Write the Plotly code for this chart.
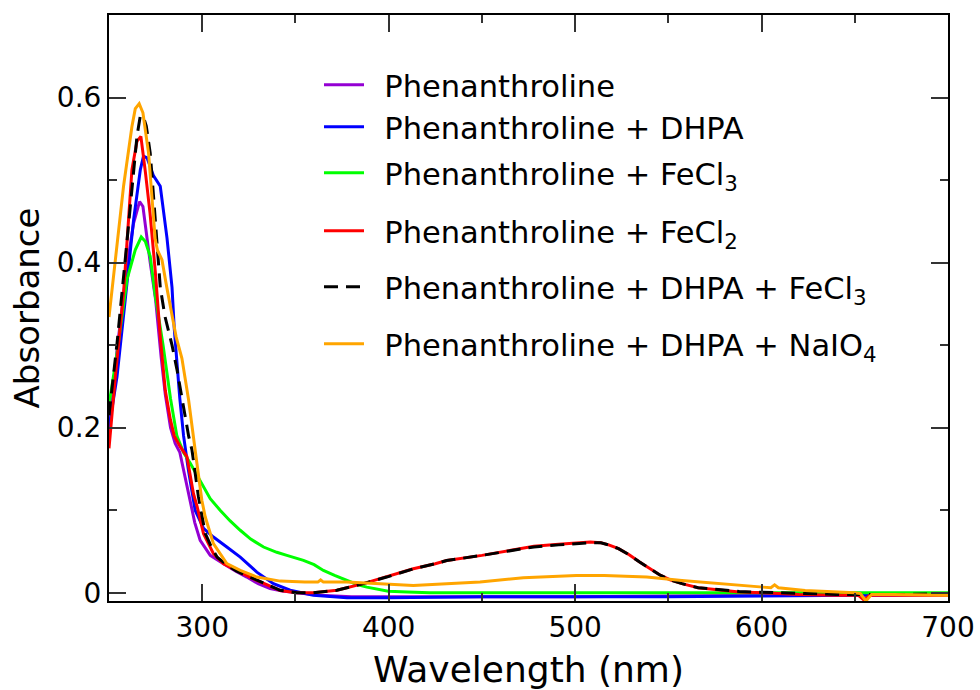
import plotly.graph_objects as go

# ---------------- data ----------------
phen_wl = [250, 254.3, 259.6, 263.2, 266.4, 268.2, 272.1, 275.0, 278.0, 280.2, 283.0, 285.5, 288.0,
           290.0, 293.6, 296.0, 298.9, 304.3, 311.4, 318.0, 323.9, 330.0, 336.4, 343.0, 350.7, 363.0,
           380.0, 400.0, 450.0, 500.0, 550.0, 600.0, 650.0, 700.0]
phen_abs = [0.19, 0.294, 0.395, 0.448, 0.474, 0.468, 0.40, 0.355, 0.285, 0.24, 0.20, 0.181, 0.17,
            0.149, 0.112, 0.085, 0.0635, 0.0453, 0.0352, 0.026, 0.019, 0.011, 0.005, 0.002, 0.0, -0.003,
            -0.005, -0.005, -0.005, -0.005, -0.004, -0.003, -0.003, -0.002]

dhpa_wl = [250, 254.3, 258.7, 263.2, 266.8, 268.5, 270.4, 273.9, 277.5, 281.1, 283.8, 285.0, 288.0,
           290.0, 292.5, 296.2, 300.7, 306.0, 313.2, 320.4, 329.3, 338.2, 347.2, 359.6, 377.6, 400.0,
           450.0, 500.0, 550.0, 600.0, 650.0, 700.0]
dhpa_abs = [0.2, 0.262, 0.355, 0.452, 0.5125, 0.529, 0.527, 0.505, 0.4925, 0.43, 0.37, 0.32, 0.235,
            0.19, 0.15, 0.1, 0.078, 0.0675, 0.0554, 0.0432, 0.025, 0.011, 0.003, -0.003, -0.006, -0.006,
            -0.005, -0.005, -0.005, -0.004, -0.003, -0.002]

fecl3_wl = [250, 254.3, 259.6, 264.1, 267.3, 269.5, 272.1, 274.8, 279.0, 283.0, 286.4, 290.0, 293.6,
            297.0, 300.7, 304.3, 309.6, 315.0, 320.4, 326.0, 332.9, 340.0, 345.4, 354.3, 360.0, 365.0,
            371.0, 377.6, 383.0, 388.3, 394.0, 399.8, 410.0, 422.0, 450.0, 500.0, 550.0, 600.0, 650.0, 700.0]
fecl3_abs = [0.228, 0.29, 0.379, 0.4155, 0.431, 0.4255, 0.4075, 0.36, 0.30, 0.235, 0.19, 0.17, 0.157,
             0.143, 0.128, 0.114, 0.1, 0.087, 0.0757, 0.065, 0.0554, 0.049, 0.0453, 0.0392, 0.034, 0.027,
             0.021, 0.0149, 0.01, 0.0068, 0.004, 0.0019, 0.001, 0.0, 0.0, 0.0, 0.0, 0.0, 0.0, 0.0]

fecl2_wl = [250, 253.4, 257.8, 262.3, 265.0, 267.1, 269.5, 272.0, 274.8, 277.5, 280.2, 282.9, 285.0,
            288.2, 291.8, 295.3, 297.2, 300.7, 306.0, 311.4, 318.5, 329.3, 341.8, 350.7, 359.6, 372.2,
            386.4, 398.9, 413.2, 425.0, 431.1, 450.0, 465.0, 477.9, 491.2, 500.0, 508.1, 513.8, 518.0,
            523.3, 529.0, 534.6, 540.0, 545.9, 551.0, 557.3, 566.0, 576.2, 588.0, 600.7, 620.0, 640.0,
            651.8, 655.0, 658.0, 660.0, 680.0, 700.0]
fecl2_abs = [0.175, 0.262, 0.363, 0.5125, 0.547, 0.553, 0.51, 0.46, 0.39, 0.31, 0.245, 0.21, 0.19,
             0.177, 0.165, 0.12, 0.105, 0.0716, 0.0474, 0.0352, 0.027, 0.0149, 0.0028, 0.0, 0.0, 0.003,
             0.011, 0.019, 0.029, 0.0352, 0.039, 0.0453, 0.051, 0.0562, 0.0587, 0.060, 0.0614, 0.0607, 0.058,
             0.0534, 0.046, 0.0372, 0.029, 0.021, 0.0155, 0.011, 0.006, 0.0036, 0.001, 0.0, -0.002, -0.003,
             -0.003, -0.009, -0.003, -0.003, -0.003, -0.003]

dhpa_fecl3_wl = [250, 254.3, 258.7, 262.3, 265.0, 266.8, 268.5, 270.0, 272.1, 273.9, 275.5, 277.5, 280.0,
                 283.8, 286.5, 289.1, 292.7, 294.5, 298.0, 301.6, 305.0, 308.0, 313.0, 318.5, 329.3, 341.8,
                 350.7, 359.6, 372.2, 386.4, 398.9, 413.2, 425.0, 431.1, 450.0, 465.0, 477.9, 491.2, 500.0,
                 508.1, 513.8, 518.0, 523.3, 529.0, 534.6, 540.0, 545.9, 551.0, 557.3, 566.0, 576.2, 588.0,
                 600.7, 620.0, 640.0, 660.0, 680.0, 700.0]
dhpa_fecl3_abs = [0.215, 0.302, 0.4035, 0.4925, 0.553, 0.578, 0.576, 0.5655, 0.533, 0.48, 0.43, 0.37, 0.335,
                  0.30, 0.27, 0.2375, 0.19, 0.173, 0.116, 0.072, 0.055, 0.043, 0.034, 0.026, 0.0149, 0.003,
                  0.0, 0.0, 0.003, 0.011, 0.019, 0.029, 0.0352, 0.039, 0.0453, 0.051, 0.0555, 0.058, 0.0595,
                  0.0605, 0.0605, 0.058, 0.0534, 0.046, 0.0372, 0.029, 0.021, 0.0155, 0.011, 0.006, 0.0036,
                  0.0015, 0.0005, -0.001, -0.002, -0.002, -0.002, -0.001]

naio4_wl = [250, 254.0, 257.8, 262.3, 264.1, 266.2, 268.2, 271.2, 273.0, 274.8, 276.0, 278.4, 281.0,
            283.8, 286.0, 289.1, 292.7, 296.2, 299.8, 301.6, 306.0, 313.2, 320.4, 329.3, 341.8, 355.0,
            362.0, 363.5, 365.0, 377.6, 395.4, 413.2, 431.1, 449.0, 472.2, 500.6, 515.7, 538.4, 557.3,
            576.2, 600.7, 605.0, 607.0, 609.0, 623.4, 649.9, 653.0, 656.0, 659.0, 670.7, 700.0]
naio4_abs = [0.334, 0.415, 0.4925, 0.565, 0.5865, 0.5925, 0.5815, 0.533, 0.476, 0.428, 0.415, 0.4035, 0.37,
             0.3345, 0.31, 0.284, 0.2335, 0.173, 0.112, 0.092, 0.0595, 0.0352, 0.027, 0.019, 0.0141, 0.013,
             0.0129, 0.0155, 0.0129, 0.0129, 0.011, 0.0089, 0.011, 0.0129, 0.0182, 0.021, 0.021, 0.019, 0.0149,
             0.011, 0.0068, 0.006, 0.0095, 0.006, 0.0028, 0.0, -0.001, -0.010, -0.002, -0.002, -0.003]

series_names = ["Phenanthroline",
                "Phenanthroline + DHPA",
                "Phenanthroline + FeCl<sub>3</sub>",
                "Phenanthroline + FeCl<sub>2</sub>",
                "Phenanthroline + DHPA + FeCl<sub>3</sub>",
                "Phenanthroline + DHPA + NaIO<sub>4</sub>"]

x_tick_vals = [300, 400, 500, 600, 700]
x_tick_text = ["300", "400", "500", "600", "700"]
y_tick_vals = [0, 0.2, 0.4, 0.6]
y_tick_text = ["0", "0.2", "0.4", "0.6"]

# ---------------- styling ----------------
FONT = "DejaVu Sans"
colors = ["#9400D3", "#0000FF", "#00FF00", "#FF0000", "#000000", "#FFA500"]
dashes = ["solid", "solid", "solid", "solid", "14px,8px", "solid"]
xs = [phen_wl, dhpa_wl, fecl3_wl, fecl2_wl, dhpa_fecl3_wl, naio4_wl]
ys = [phen_abs, dhpa_abs, fecl3_abs, fecl2_abs, dhpa_fecl3_abs, naio4_abs]
legend_ids = ["legend", "legend2", "legend3", "legend4", "legend5", "legend6"]

fig = go.Figure()
for name, x, y, c, d, lg in zip(series_names, xs, ys, colors, dashes, legend_ids):
    fig.add_trace(go.Scatter(x=x, y=y, mode="lines", name="\u2002" + name, legend=lg,
                             line=dict(color=c, width=3, dash=d)))

# plot area geometry (px)
L, R, T, B = 109, 948, 15, 601
W, H = 980, 690
row_px = [85, 127, 173, 231, 287, 344]
legend_left_px = 319

legend_layout = {}
for lg, rp in zip(legend_ids, row_px):
    legend_layout[lg] = dict(
        x=(legend_left_px - L) / (R - L), xanchor="left",
        y=(B - rp) / (B - T), yanchor="middle",
        bgcolor="rgba(0,0,0,0)", borderwidth=0,
        font=dict(family=FONT, size=30.5, color="black"),
        itemwidth=40, tracegroupgap=0,
    )

axis_common = dict(
    showline=True, linecolor="black", linewidth=2, mirror="ticks",
    ticks="inside", ticklen=17, tickwidth=1.5, tickcolor="#333",
    showgrid=False, zeroline=False, automargin=False,
    tickfont=dict(family=FONT, size=28, color="black"),
)

fig.update_layout(
    width=W, height=H,
    margin=dict(l=L, r=W - R, t=T, b=H - B, autoexpand=False),
    paper_bgcolor="white", plot_bgcolor="white",
    showlegend=True,
    xaxis=dict(axis_common, range=[250, 700], tickvals=x_tick_vals, ticktext=x_tick_text,
               minor=dict(dtick=50, tick0=250, ticks="inside", ticklen=8, tickwidth=1.5, tickcolor="#333"),
               title=dict(text="Wavelength (nm)", font=dict(family=FONT, size=36, color="black"), standoff=20)),
    yaxis=dict(axis_common, range=[-0.01, 0.7], tickvals=y_tick_vals, ticktext=y_tick_text,
               minor=dict(dtick=0.1, tick0=0, ticks="inside", ticklen=8, tickwidth=1.5, tickcolor="#333"),
               title=dict(text="Absorbance", font=dict(family=FONT, size=34, color="black"), standoff=7)),
    **legend_layout,
)

fig.write_html("out.html", config={"displayModeBar": False},
               post_script="document.body.style.margin='0px';")
